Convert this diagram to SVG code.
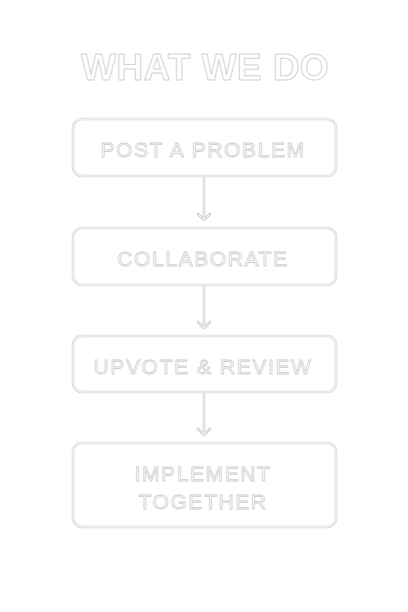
<svg xmlns="http://www.w3.org/2000/svg" width="408" height="612" viewBox="0 0 408 612">
<style>
.bg{fill:#ffffff}
.box-o{fill:#ffffff;stroke:#d6d6d6;stroke-width:2.6}
.box-i{fill:none;stroke:#ffffff;stroke-width:0.9}
.lbl{font-family:"Liberation Sans",Arial,sans-serif;font-size:21px;letter-spacing:1.6px;fill:#ffffff;stroke:#cfcfcf;stroke-width:0.8;text-anchor:middle}
.title{font-family:"Liberation Sans",Arial,sans-serif;font-weight:bold;font-size:37px;letter-spacing:0.4px;fill:#ffffff;stroke:#d4d4d4;stroke-width:1;text-anchor:middle}
.ar-o{fill:none;stroke:#cdcdcd;stroke-width:2.6;stroke-linecap:round;stroke-linejoin:round}
.ar-i{fill:none;stroke:#ffffff;stroke-width:0.9;stroke-linecap:round;stroke-linejoin:round}
</style>
<rect class="bg" x="0" y="0" width="408" height="612"/>
<g id="title"><text class="title" x="205" y="80">WHAT WE DO</text></g>
<g id="connectors">
<path class="ar-o" d="M204 177V220M198 214L204 220L210 214"/>
<path class="ar-i" d="M204 177V220M198 214L204 220L210 214"/>
<path class="ar-o" d="M204 286V328M198 322L204 328L210 322"/>
<path class="ar-i" d="M204 286V328M198 322L204 328L210 322"/>
<path class="ar-o" d="M204 393V435M198 429L204 435L210 429"/>
<path class="ar-i" d="M204 393V435M198 429L204 435L210 429"/>
</g>
<g id="node1">
<rect class="box-o" x="73" y="119" width="263" height="57" rx="9"/>
<rect class="box-i" x="73" y="119" width="263" height="57" rx="9"/>
<text class="lbl" x="203" y="157">POST A PROBLEM</text>
</g>
<g id="node2">
<rect class="box-o" x="73" y="228" width="263" height="57" rx="9"/>
<rect class="box-i" x="73" y="228" width="263" height="57" rx="9"/>
<text class="lbl" x="203" y="266">COLLABORATE</text>
</g>
<g id="node3">
<rect class="box-o" x="73" y="336" width="263" height="56" rx="9"/>
<rect class="box-i" x="73" y="336" width="263" height="56" rx="9"/>
<text class="lbl" x="203" y="374">UPVOTE &amp; REVIEW</text>
</g>
<g id="node4">
<rect class="box-o" x="73" y="443" width="263" height="84" rx="9"/>
<rect class="box-i" x="73" y="443" width="263" height="84" rx="9"/>
<text class="lbl" x="203" y="481">IMPLEMENT</text>
<text class="lbl" x="203" y="509">TOGETHER</text>
</g>
</svg>
